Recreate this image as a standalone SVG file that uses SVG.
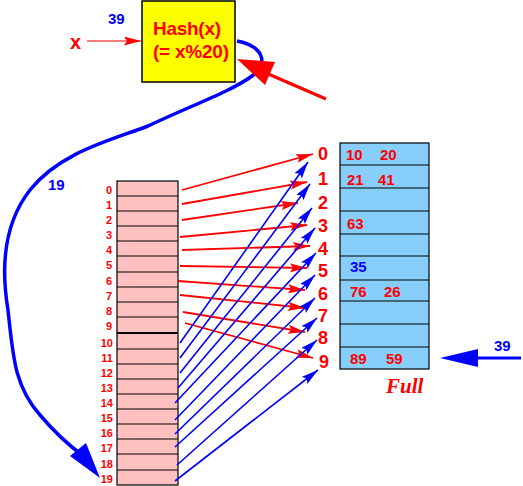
<svg xmlns="http://www.w3.org/2000/svg" width="523" height="486" viewBox="0 0 523 486">
<style>
.r{fill:#ff0000;font-family:"Liberation Sans",Arial,sans-serif;font-weight:bold}
.b{fill:#0000ff;font-family:"Liberation Sans",Arial,sans-serif;font-weight:bold}
.idx{font-size:11px;text-anchor:end}
.bk{font-size:18px}
.val{font-size:15px}
.rl{stroke:#ff0000;stroke-width:1.8;fill:none}
.bl{stroke:#0000ff;stroke-width:1.6;fill:none}
.grid{stroke:#000;stroke-width:1.2}
</style>
<defs>
<marker id="ar" markerUnits="userSpaceOnUse" markerWidth="18" markerHeight="10" refX="17" refY="4.5" orient="auto">
<path d="M0,0 L17,4.5 L0,9 L3,4.5 z" fill="#ff0000"/>
</marker>
<marker id="ab" markerUnits="userSpaceOnUse" markerWidth="18" markerHeight="10" refX="17" refY="4.5" orient="auto">
<path d="M0,0 L17,4.5 L0,9 L3,4.5 z" fill="#0000ff"/>
</marker>
</defs>
<rect width="523" height="486" fill="#ffffff"/>

<g id="input">
<text class="r" x="70" y="49" font-size="20">x</text>
<text class="b" x="108" y="24" font-size="15">39</text>
<line x1="87" y1="41" x2="141" y2="41" stroke="#ff0000" stroke-width="1.2" marker-end="url(#ar)"/>
</g>

<g id="hash">
<rect x="142" y="1" width="93" height="81" fill="#ffff00" stroke="#000" stroke-width="1.5"/>
<text class="r" x="153" y="35" font-size="19" textLength="68">Hash(x)</text>
<text class="r" x="153" y="58" font-size="19" textLength="76">(= x%20)</text>
</g>

<g id="table">
<rect x="117" y="181" width="61" height="304" fill="#ffc0c0" stroke="#000" stroke-width="1.2"/>
<g class="grid">
<line x1="117" y1="196" x2="178" y2="196"/>
<line x1="117" y1="211" x2="178" y2="211"/>
<line x1="117" y1="226" x2="178" y2="226"/>
<line x1="117" y1="241" x2="178" y2="241"/>
<line x1="117" y1="256" x2="178" y2="256"/>
<line x1="117" y1="272" x2="178" y2="272"/>
<line x1="117" y1="287" x2="178" y2="287"/>
<line x1="117" y1="302" x2="178" y2="302"/>
<line x1="117" y1="317" x2="178" y2="317"/>
<line x1="117" y1="333" x2="178" y2="333" stroke-width="2.2"/>
<line x1="117" y1="349" x2="178" y2="349"/>
<line x1="117" y1="364" x2="178" y2="364"/>
<line x1="117" y1="379" x2="178" y2="379"/>
<line x1="117" y1="394" x2="178" y2="394"/>
<line x1="117" y1="409" x2="178" y2="409"/>
<line x1="117" y1="424" x2="178" y2="424"/>
<line x1="117" y1="439" x2="178" y2="439"/>
<line x1="117" y1="454" x2="178" y2="454"/>
<line x1="117" y1="470" x2="178" y2="470"/>
</g>
<g class="r idx">
<text x="112" y="194">0</text>
<text x="112" y="209">1</text>
<text x="112" y="224">2</text>
<text x="112" y="239">3</text>
<text x="112" y="254">4</text>
<text x="112" y="269">5</text>
<text x="112" y="285">6</text>
<text x="112" y="300">7</text>
<text x="112" y="315">8</text>
<text x="112" y="330">9</text>
<text x="113" y="347">10</text>
<text x="113" y="362">11</text>
<text x="113" y="377">12</text>
<text x="113" y="392">13</text>
<text x="113" y="407">14</text>
<text x="113" y="422">15</text>
<text x="113" y="437">16</text>
<text x="113" y="452">17</text>
<text x="113" y="468">18</text>
<text x="113" y="483">19</text>
</g>
</g>

<g id="buckets">
<g class="r bk">
<text x="318" y="160">0</text>
<text x="318" y="185">1</text>
<text x="318" y="209">2</text>
<text x="318" y="232">3</text>
<text x="318" y="255">4</text>
<text x="318" y="277">5</text>
<text x="318" y="300">6</text>
<text x="318" y="322">7</text>
<text x="318" y="344">8</text>
<text x="319" y="368">9</text>
</g>
</g>

<g id="overflow">
<rect x="340" y="143" width="89" height="226" fill="#87cefa" stroke="#000" stroke-width="1.2"/>
<g class="grid">
<line x1="340" y1="165" x2="429" y2="165"/>
<line x1="340" y1="188" x2="429" y2="188"/>
<line x1="340" y1="211" x2="429" y2="211"/>
<line x1="340" y1="234" x2="429" y2="234"/>
<line x1="340" y1="256" x2="429" y2="256"/>
<line x1="340" y1="280" x2="429" y2="280"/>
<line x1="340" y1="301" x2="429" y2="301"/>
<line x1="340" y1="324" x2="429" y2="324"/>
<line x1="340" y1="347" x2="429" y2="347"/>
</g>
<g class="r val">
<text x="346" y="160">10</text><text x="380" y="160">20</text>
<text x="347" y="185">21</text><text x="378" y="185">41</text>
<text x="347" y="229">63</text>
<text x="350" y="297">76</text><text x="384" y="297">26</text>
<text x="350" y="364">89</text><text x="386" y="364">59</text>
</g>
<text class="b val" x="350" y="272">35</text>
<text x="386" y="393" fill="#ff0000" font-family="'Liberation Serif','Times New Roman',serif" font-weight="bold" font-style="italic" font-size="21">Full</text>
</g>

<g id="incoming">
<text class="b" x="494" y="351" font-size="15">39</text>
<line x1="521" y1="358" x2="474" y2="358" stroke="#0000ff" stroke-width="3"/>
<polygon points="440,358 478,349 478,367" fill="#0000ff"/>
</g>

<g id="connectors">
<path d="M237,41 C262,46 270,62 252,76 C232,91 190,106 148,126 C112,140 60,152 30,190 C5,222 0,262 8,310 C13,355 14,386 40,415 C56,434 70,446 82,455" stroke="#0000ff" stroke-width="3.5" fill="none"/>
<polygon points="100,478 70,456 86,443" fill="#0000ff"/>
<text class="b" x="48" y="190" font-size="15">19</text>
<line x1="326" y1="99" x2="266" y2="73" stroke="#ff0000" stroke-width="3"/>
<polygon points="237,59 275,62 265,85" fill="#ff0000"/>

<g class="rl">
<line x1="182" y1="190" x2="313" y2="154" marker-end="url(#ar)"/>
<line x1="182" y1="204" x2="307" y2="182" marker-end="url(#ar)"/>
<line x1="182" y1="220" x2="298" y2="203" marker-end="url(#ar)"/>
<line x1="180" y1="237" x2="307" y2="225" marker-end="url(#ar)"/>
<line x1="182" y1="250" x2="310" y2="246" marker-end="url(#ar)"/>
<line x1="180" y1="266" x2="307" y2="268" marker-end="url(#ar)"/>
<line x1="178" y1="281" x2="305" y2="290" marker-end="url(#ar)"/>
<line x1="180" y1="295" x2="305" y2="308" marker-end="url(#ar)"/>
<line x1="183" y1="312" x2="305" y2="332" marker-end="url(#ar)"/>
<line x1="185" y1="323" x2="313" y2="358" marker-end="url(#ar)"/>
</g>
<g class="bl">
<line x1="180" y1="343" x2="308" y2="162" marker-end="url(#ab)"/>
<line x1="180" y1="358" x2="310" y2="184" marker-end="url(#ab)"/>
<line x1="180" y1="373" x2="312" y2="208" marker-end="url(#ab)"/>
<line x1="178" y1="388" x2="315" y2="228" marker-end="url(#ab)"/>
<line x1="175" y1="403" x2="316" y2="253" marker-end="url(#ab)"/>
<line x1="175" y1="420" x2="315" y2="275" marker-end="url(#ab)"/>
<line x1="175" y1="434" x2="315" y2="298" marker-end="url(#ab)"/>
<line x1="175" y1="447" x2="317" y2="318" marker-end="url(#ab)"/>
<line x1="177" y1="465" x2="317" y2="340" marker-end="url(#ab)"/>
<line x1="175" y1="481" x2="318" y2="370" marker-end="url(#ab)"/>
</g>
</g>
</svg>
